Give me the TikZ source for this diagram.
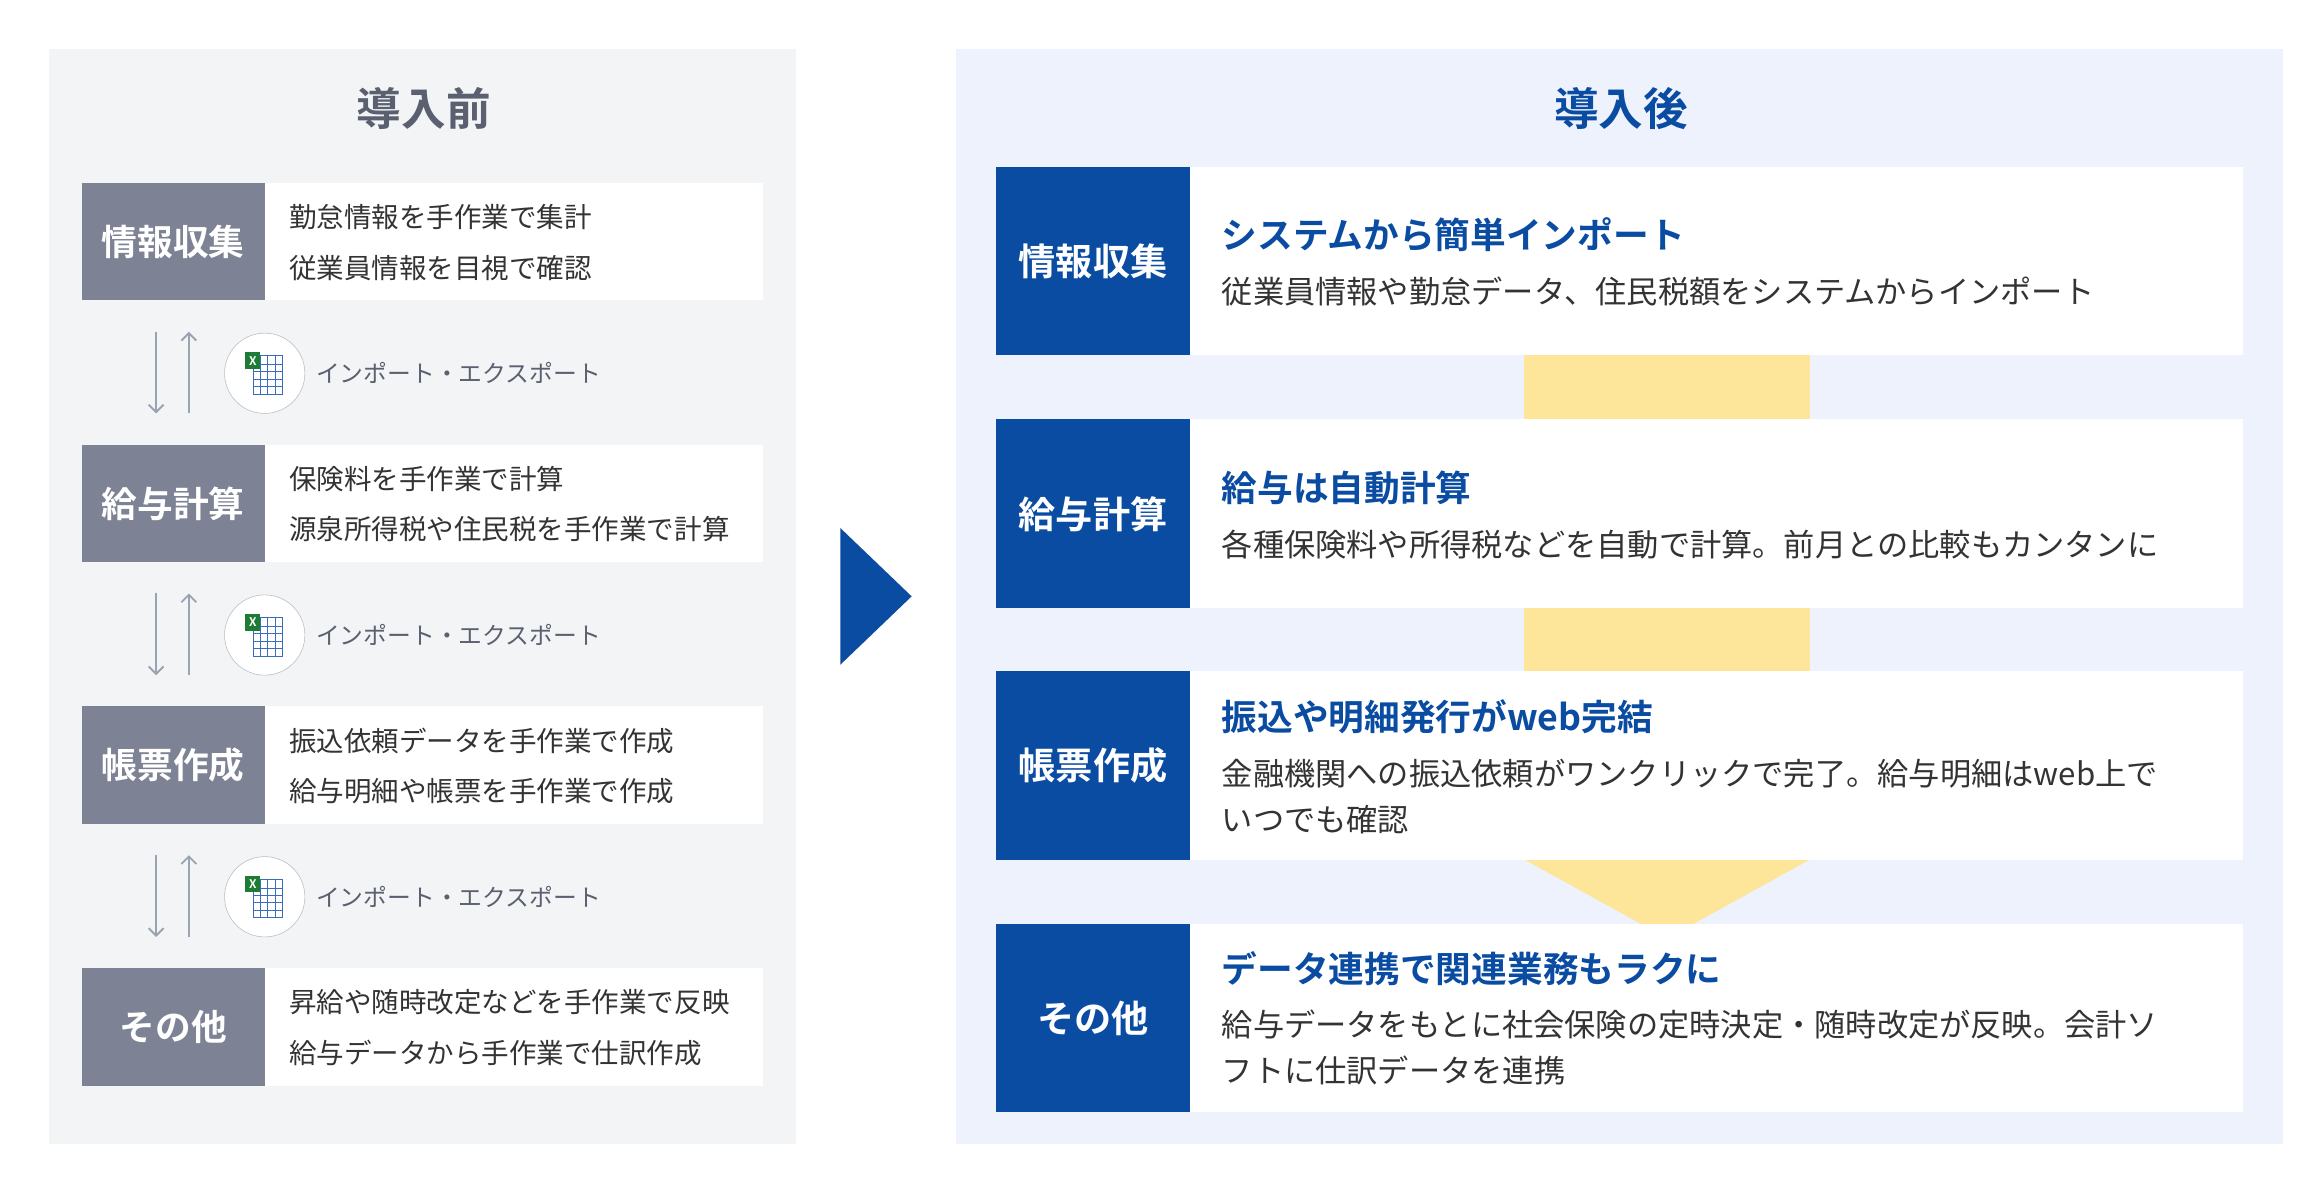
\documentclass[tikz,border=0pt]{standalone}
\usepackage{fontspec}
\setmainfont{Noto Sans CJK JP}[BoldFont={* Bold}]
\usepackage{tikz}
\usetikzlibrary{arrows.meta}
\definecolor{bgL}{HTML}{F3F4F6}
\definecolor{bgR}{HTML}{EEF2FC}
\definecolor{labL}{HTML}{7D8294}
\definecolor{labR}{HTML}{0B4CA3}
\definecolor{txt}{HTML}{333333}
\definecolor{gtxt}{HTML}{5A6070}
\definecolor{arr}{HTML}{9AA3B2}
\definecolor{yel}{HTML}{FDE699}
\definecolor{xlg}{HTML}{1E7B34}
\definecolor{xlb}{HTML}{3A6DB5}
\tikzset{
  labl/.style={fill=labL,text=white,font=\bfseries\fontsize{24}{28}\selectfont},
  labr/.style={fill=labR,text=white,font=\bfseries\fontsize{25}{29}\selectfont},
  body/.style={anchor=west,text=txt,font=\fontsize{18.5}{22}\selectfont},
  rbody/.style={anchor=west,text=txt,font=\fontsize{21}{25}\selectfont},
  head/.style={anchor=west,text=labR,font=\bfseries\fontsize{24}{28}\selectfont},
}
\newcommand{\xlicon}[1]{%
  \begin{scope}[shift={#1}]
  \draw[xlb,fill=white] (-8,-12) rectangle (12,14);
  \foreach \i in {-6,-1,4,9} \draw[xlb,thin] (-8,\i) -- (12,\i);
  \foreach \j in {-3,2,7} \draw[xlb,thin] (\j,-12) -- (\j,14);
  \fill[xlg] (-13,-14) rectangle (-3,-3);
  \node[text=white,font=\bfseries\fontsize{8}{8}\selectfont] at (-8,-8.5) {X};
  \end{scope}}
\begin{document}
\begin{tikzpicture}[x=1pt,y=-1pt]
\useasboundingbox (0,0) rectangle (1560,797);
\fill[white] (0,0) rectangle (1560,797);
%導入前
\fill[bgL] (33,33) rectangle (535,769);
\node[text=gtxt,font=\bfseries\fontsize{30}{34}\selectfont] (tL) at (285,73) {導入前};
\foreach \y/\lab/\a/\b [count=\k] in {123/情報収集/勤怠情報を手作業で集計/従業員情報を目視で確認,
  299/給与計算/保険料を手作業で計算/源泉所得税や住民税を手作業で計算,
  475/帳票作成/振込依頼データを手作業で作成/給与明細や帳票を手作業で作成,
  651/その他/昇給や随時改定などを手作業で反映/給与データから手作業で仕訳作成}{
  \fill[labL] (55,\y) rectangle (178,\y+79);
  \fill[white] (178,\y) rectangle (513,\y+79);
  \node[labl] (l\k) at (116.5,\y+39.5) {\lab};
  \node[body] (la\k) at (191,\y+23) {\a};
  \node[body] (lb\k) at (191,\y+57) {\b};
}
%インポート・エクスポート
\foreach \y [count=\k] in {202,378,554}{
  \coordinate (d\k) at (105,\y+21);
  \coordinate (u\k) at (127,\y+76);
  \draw[arr,line width=1.3pt,-{Straight Barb[length=5pt,width=10pt]}] (d\k) -- ++(0,55);
  \draw[arr,line width=1.3pt,-{Straight Barb[length=5pt,width=10pt]}] (u\k) -- ++(0,-55);
  \node[circle,draw=arr!70,fill=white,minimum size=54pt,inner sep=0pt] (c\k) at (178,\y+49) {};
  \xlicon{(c\k)}
  \node[anchor=west,text=gtxt,font=\fontsize{16}{20}\selectfont] (ie\k) at (209,\y+49) {インポート・エクスポート};
}
%矢印
\fill[labR] (565,355) -- (613,401) -- (565,447) -- cycle;
%導入後
\fill[bgR] (643,33) rectangle (1535,769);
\node[text=labR,font=\bfseries\fontsize{30}{34}\selectfont] (tR) at (1090,73) {導入後};
\fill[yel] (1025,239) rectangle (1217,282);
\fill[yel] (1025,409) rectangle (1217,451);
\fill[yel] (1025,578) -- (1217,578) -- (1121,631) -- cycle;
\foreach \y/\lab/\hy/\h [count=\k] in {112/情報収集/158/システムから簡単インポート,
  282/給与計算/328/給与は自動計算,
  451/帳票作成/482/振込や明細発行がweb完結,
  621/その他/651/データ連携で関連業務もラクに}{
  \fill[labR] (670,\y) rectangle (800,\y+127);
  \fill[white] (800,\y) rectangle (1508,\y+127);
  \node[labr] (r\k) at (735,\y+64) {\lab};
  \node[head] (h\k) at (818,\hy) {\h};
}
\node[rbody] (ra1) at (818,196) {従業員情報や勤怠データ、住民税額をシステムからインポート};
\node[rbody] (ra2) at (818,366) {各種保険料や所得税などを自動で計算。前月との比較もカンタンに};
\node[rbody] (ra3) at (818,520) {金融機関への振込依頼がワンクリックで完了。給与明細はweb上で};
\node[rbody] (rb3) at (818,551) {いつでも確認};
\node[rbody] (ra4) at (818,689) {給与データをもとに社会保険の定時決定・随時改定が反映。会計ソ};
\node[rbody] (rb4) at (818,720) {フトに仕訳データを連携};
\end{tikzpicture}
\end{document}
